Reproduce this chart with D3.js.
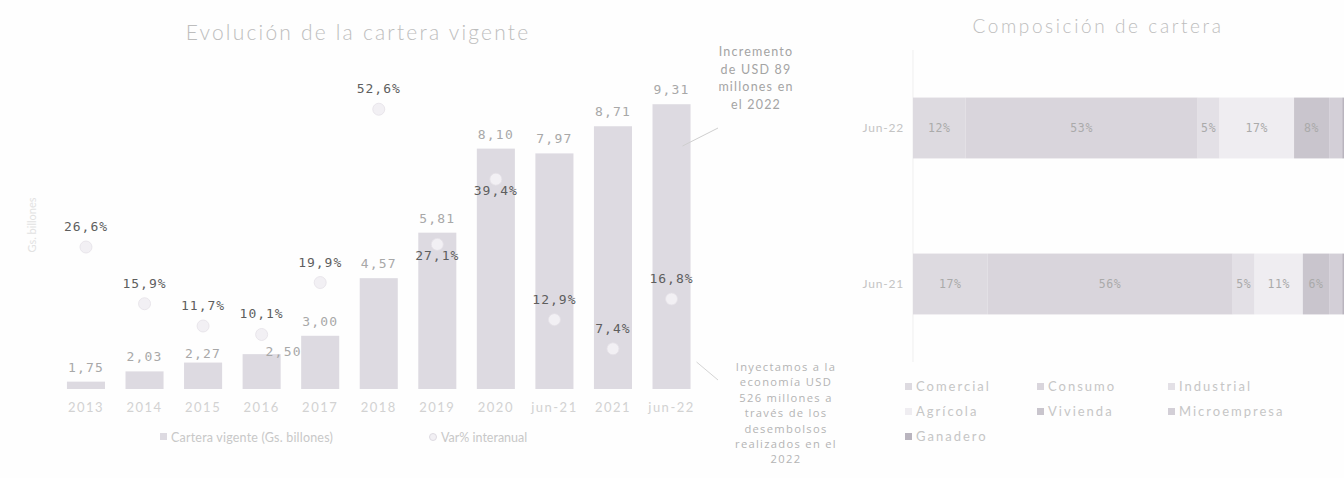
<!DOCTYPE html>
<html>
<head>
<meta charset="utf-8">
<script src="https://cdn.jsdelivr.net/npm/d3@7"></script>
<style>
  html, body { margin: 0; padding: 0; background: #fefefe; }
  svg { display: block; }
</style>
</head>
<body>
<svg id="chart" width="1344" height="478"></svg>
<script>
// ---------- data ----------
const categories = ["2013","2014","2015","2016","2017","2018","2019","2020","jun-21","2021","jun-22"];
const carteraValues = [1.75, 2.03, 2.27, 2.50, 3.00, 4.57, 5.81, 8.10, 7.97, 8.71, 9.31];
const varInteranual = [26.6, 15.9, 11.7, 10.1, 19.9, 52.6, 27.1, 39.4, 12.9, 7.4, 16.8];
const leftLegendLabels = ["Cartera vigente (Gs. billones)", "Var% interanual"];

const compRows = ["Jun-22", "Jun-21"];
const compSectors = ["Comercial","Consumo","Industrial","Agrícola","Vivienda","Microempresa","Ganadero"];
const compJun22 = [12, 53, 5, 17, 8, 3, 2];
const compJun21 = [17, 56, 5, 11, 6, 3, 2];

const note1Lines = ["Incremento", "de USD 89", "millones en", "el 2022"];
const note2Lines = ["Inyectamos a la", "economía USD", "526 millones a", "través de los", "desembolsos", "realizados en el", "2022"];

// ---------- helpers ----------
const fmt1 = v => d3.format(".1f")(v).replace(".", ",");
const fmt2 = v => d3.format(".2f")(v).replace(".", ",");
const svg = d3.select("#chart");
const sans = "Lato, 'Open Sans', sans-serif";
const mono = "'DejaVu Sans Mono', 'Liberation Mono', monospace";

// ================= LEFT CHART =================
const x = d3.scaleBand().domain(categories).range([56.7, 700.8]).paddingInner(0.35).paddingOuter(0.175);
const y = d3.scaleLinear().domain([1.55, 10]).range([389, 78.9]);
const y2 = d3.scaleLinear().domain([0, 60]).range([388, 70]);

svg.append("text")
  .attr("x", 358).attr("y", 40)
  .attr("text-anchor", "middle")
  .attr("font-family", sans).attr("font-weight", 300)
  .attr("font-size", 21).attr("letter-spacing", 2.2)
  .attr("fill", "#bdbdbd")
  .text("Evolución de la cartera vigente");

// faint vertical axis title
svg.append("text")
  .attr("transform", "translate(36,225) rotate(-90)")
  .attr("text-anchor", "middle")
  .attr("font-family", sans).attr("font-size", 11)
  .attr("fill", "#e2e2e2")
  .text("Gs. billones");

const left = svg.append("g");
left.selectAll("rect.bar")
  .data(categories)
  .join("rect")
  .attr("class", "bar")
  .attr("x", d => x(d))
  .attr("width", x.bandwidth())
  .attr("y", (d, i) => y(carteraValues[i]))
  .attr("height", (d, i) => y(y.domain()[0]) - y(carteraValues[i]))
  .attr("fill", "#dddae1");

// value labels
const valueNudge = { "2016": [22, 12], "2015": [0, 5] };
left.selectAll("text.val")
  .data(categories)
  .join("text")
  .attr("class", "val")
  .attr("x", d => x(d) + x.bandwidth() / 2 + (valueNudge[d] ? valueNudge[d][0] : 0))
  .attr("y", (d, i) => y(carteraValues[i]) - 10 + (valueNudge[d] ? valueNudge[d][1] : 0))
  .attr("text-anchor", "middle")
  .attr("font-family", mono).attr("font-size", 13).attr("letter-spacing", 1.2)
  .attr("fill", "#a8a8a8")
  .text((d, i) => fmt2(carteraValues[i]));

// growth markers
left.selectAll("circle.var")
  .data(categories)
  .join("circle")
  .attr("class", "var")
  .attr("cx", d => x(d) + x.bandwidth() / 2)
  .attr("cy", (d, i) => y2(varInteranual[i]))
  .attr("r", 6)
  .attr("fill", "#f2f0f4")
  .attr("stroke", "#e4e1e7").attr("stroke-width", 0.8);

const belowLabel = { "2019": true, "2020": true };
left.selectAll("text.var")
  .data(categories)
  .join("text")
  .attr("class", "var")
  .attr("x", d => x(d) + x.bandwidth() / 2)
  .attr("y", (d, i) => y2(varInteranual[i]) + (belowLabel[d] ? 16 : -16))
  .attr("text-anchor", "middle")
  .attr("font-family", mono).attr("font-size", 13).attr("letter-spacing", 1)
  .attr("fill", "#5e5e5e")
  .text((d, i) => fmt1(varInteranual[i]) + "%");

// x axis labels
const xAxis = d3.axisBottom(x).tickSize(0).tickPadding(0);
const gx = left.append("g").attr("transform", "translate(0,400)").call(xAxis);
gx.select(".domain").remove();
gx.selectAll("text")
  .attr("font-family", sans).attr("font-size", 13).attr("letter-spacing", 1.5)
  .attr("fill", "#d2d2d2").attr("dy", "0.9em");

// left legend
const lg = svg.append("g");
lg.append("rect").attr("x", 160).attr("y", 433).attr("width", 7).attr("height", 7).attr("fill", "#dddae1");
lg.append("text").attr("x", 171).attr("y", 442)
  .attr("font-family", sans).attr("font-size", 12.5).attr("letter-spacing", 0.2)
  .attr("fill", "#c8c8c8").text(leftLegendLabels[0]);
lg.append("circle").attr("cx", 433).attr("cy", 437).attr("r", 3.5)
  .attr("fill", "#f2f0f4").attr("stroke", "#dedbe2");
lg.append("text").attr("x", 441).attr("y", 442)
  .attr("font-family", sans).attr("font-size", 12.5).attr("letter-spacing", 0)
  .attr("fill", "#c8c8c8").text(leftLegendLabels[1]);

// annotations
const lastX = x(categories[categories.length - 1]) + x.bandwidth();
const n1 = svg.append("g")
  .attr("text-anchor", "middle")
  .attr("font-family", sans).attr("font-size", 12.5).attr("letter-spacing", 1.2)
  .attr("fill", "#a4a4a4");
note1Lines.forEach((t, i) => n1.append("text").attr("x", 756).attr("y", 56 + i * 17.5).text(t));
svg.append("line")
  .attr("x1", 718).attr("y1", 128).attr("x2", lastX - 8).attr("y2", 146)
  .attr("stroke", "#cfcfcf").attr("stroke-width", 1);

const n2 = svg.append("g")
  .attr("text-anchor", "middle")
  .attr("font-family", "'Open Sans', sans-serif").attr("font-size", 11.2).attr("letter-spacing", 1.3)
  .attr("fill", "#b4b4b4");
note2Lines.forEach((t, i) => n2.append("text").attr("x", 786).attr("y", 371 + i * 15.4).text(t));
svg.append("line")
  .attr("x1", lastX + 6).attr("y1", 362).attr("x2", 718).attr("y2", 380)
  .attr("stroke", "#d4d4d4").attr("stroke-width", 1);

// ================= RIGHT CHART =================
svg.append("text")
  .attr("x", 1098).attr("y", 33)
  .attr("text-anchor", "middle")
  .attr("font-family", sans).attr("font-weight", 300)
  .attr("font-size", 19).attr("letter-spacing", 2.6)
  .attr("fill", "#bdbdbd")
  .text("Composición de cartera");

const xr = d3.scaleLinear().domain([0, 100]).range([913, 1351]);
const yr = d3.scaleBand().domain(compRows).range([50, 362]).paddingInner(0.61).paddingOuter(0.305);
const sectorColor = d3.scaleOrdinal().domain(compSectors)
  .range(["#dddae0", "#d9d5dc", "#e3e0e6", "#efedf1", "#c9c5cd", "#d3cfd7", "#b9b4be"]);

const compTable = compSectors.map((s, i) => ({ sector: s, "Jun-22": compJun22[i], "Jun-21": compJun21[i] }));
const stackData = compRows.map(r => {
  const o = { row: r };
  compTable.forEach(c => o[c.sector] = c[r]);
  return o;
});
const series = d3.stack().keys(compSectors)(stackData);

const right = svg.append("g");
right.append("line")
  .attr("x1", 913).attr("x2", 913).attr("y1", 50).attr("y2", 362)
  .attr("stroke", "#efefef");

const sg = right.selectAll("g.ser").data(series).join("g").attr("class", "ser")
  .attr("fill", d => sectorColor(d.key));
sg.selectAll("rect")
  .data(d => d)
  .join("rect")
  .attr("x", d => xr(d[0]))
  .attr("width", d => xr(d[1]) - xr(d[0]))
  .attr("y", d => yr(d.data.row))
  .attr("height", yr.bandwidth());

// segment labels (only where the segment is wide enough and fully inside the picture)
const lblG = right.selectAll("g.lbl").data(series).join("g").attr("class", "lbl");
lblG.selectAll("text")
  .data(d => d.filter(s => xr(s[1]) - xr(s[0]) >= 18 && xr(s[1]) <= 1344))
  .join("text")
  .attr("x", d => (xr(d[0]) + xr(d[1])) / 2)
  .attr("y", d => yr(d.data.row) + yr.bandwidth() / 2 + 4)
  .attr("text-anchor", "middle")
  .attr("font-family", mono).attr("font-size", 11.5).attr("letter-spacing", 0.6)
  .attr("fill", "#aaaaaa")
  .text(d => (d[1] - d[0]) + "%");

const yAxisR = d3.axisLeft(yr).tickSize(0).tickPadding(9);
const gyr = right.append("g").attr("transform", "translate(913,0)").call(yAxisR);
gyr.select(".domain").remove();
gyr.selectAll("text")
  .attr("font-family", sans).attr("font-size", 12).attr("letter-spacing", 0.8)
  .attr("fill", "#c4c4c4");

// right legend
const legCols = [905, 1037, 1168];
const legRows = [387, 412, 437];
const rl = svg.append("g");
compSectors.forEach((s, i) => {
  const cx = legCols[i % 3], cy = legRows[Math.floor(i / 3)];
  rl.append("rect").attr("x", cx).attr("y", cy - 4).attr("width", 7).attr("height", 7)
    .attr("fill", sectorColor(s));
  rl.append("text").attr("x", cx + 11).attr("y", cy + 4)
    .attr("font-family", sans).attr("font-size", 13).attr("letter-spacing", 2)
    .attr("fill", "#c6c6c6").text(s);
});
</script>
</body>
</html>
